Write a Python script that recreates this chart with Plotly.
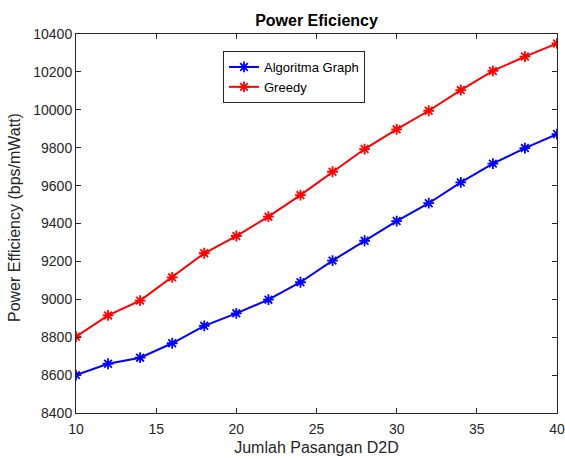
import plotly.graph_objects as go

pairs = [10, 12, 14, 16, 18, 20, 22, 24, 26, 28, 30, 32, 34, 36, 38, 40]
algoritma_graph = [8600, 8660, 8692, 8768, 8860, 8926, 8998, 9090, 9204, 9309,
                   9413, 9507, 9617, 9716, 9798, 9872]
greedy = [8803, 8915, 8993, 9116, 9243, 9334, 9436, 9550, 9673, 9793,
          9897, 9995, 10104, 10205, 10281, 10350]

x_ticks = [10, 15, 20, 25, 30, 35, 40]
y_ticks = [8400, 8600, 8800, 9000, 9200, 9400, 9600, 9800, 10000, 10200, 10400]

FONT = "Liberation Sans, Arial, sans-serif"
AX = "#262626"

fig = go.Figure()
fig.add_trace(go.Scatter(
    x=pairs, y=algoritma_graph, mode="lines+markers", name="Algoritma Graph",
    line=dict(color="#0000ff", width=2),
    marker=dict(symbol="asterisk-open", size=9, color="#0000ff",
                line=dict(color="#0000ff", width=1.8)),
))
fig.add_trace(go.Scatter(
    x=pairs, y=greedy, mode="lines+markers", name="Greedy",
    line=dict(color="#ff0000", width=2),
    marker=dict(symbol="asterisk-open", size=9, color="#ff0000",
                line=dict(color="#ff0000", width=1.8)),
))

axis_common = dict(
    showline=True, linecolor=AX, linewidth=1, mirror="ticks",
    ticks="inside", ticklen=5, tickcolor=AX, tickwidth=1,
    showgrid=False, zeroline=False, automargin=False,
    tickfont=dict(family=FONT, size=14, color=AX),
)

fig.update_layout(
    width=565, height=459,
    margin=dict(l=76, r=8, t=34, b=46),
    paper_bgcolor="white", plot_bgcolor="white",
    font=dict(family=FONT, color=AX),
    title=dict(text="<b>Power Eficiency</b>", x=316.5 / 565, xanchor="center",
               y=1 - 20 / 459, yanchor="middle",
               font=dict(family=FONT, size=16, color="#000000")),
    xaxis=dict(range=[10, 40], tickvals=x_ticks,
               ticktext=[str(v) for v in x_ticks], ticklabelstandoff=3,
               title=dict(text="Jumlah Pasangan D2D", standoff=6,
                          font=dict(family=FONT, size=16, color=AX)),
               **axis_common),
    yaxis=dict(range=[8400, 10400], tickvals=y_ticks,
               ticktext=[str(v) for v in y_ticks],
               **axis_common),
    legend=dict(x=(223 - 76) / 481, y=(413 - 51) / 379, xanchor="left", yanchor="top",
                bgcolor="white", bordercolor=AX, borderwidth=1,
                font=dict(family=FONT, size=13, color="#000000"),
                tracegroupgap=0, itemwidth=30),
    showlegend=True,
    annotations=[dict(
        text="Power Efficiency (bps/mWatt)", textangle=-90,
        xref="paper", yref="paper", x=(15 - 76) / 481, y=(413 - 218) / 379,
        xanchor="center", yanchor="middle", showarrow=False,
        font=dict(family=FONT, size=16, color=AX),
    )],
)

fig.write_html("out.html")
